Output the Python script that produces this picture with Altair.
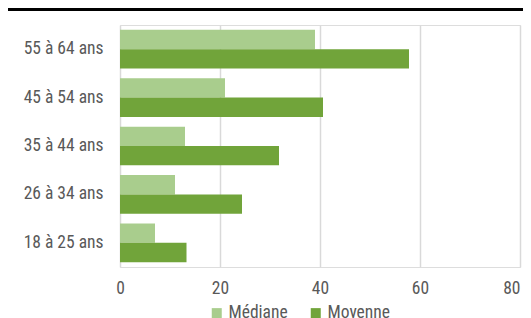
import altair as alt
import pandas as pd

groups = ["55 à 64 ans", "45 à 54 ans", "35 à 44 ans", "26 à 34 ans", "18 à 25 ans"]
mediane = [39, 21, 13, 11, 7]
moyenne = [57.8, 40.6, 31.8, 24.4, 13.3]
series = ["Médiane", "Moyenne"]
colors = ["#A9CD8D", "#71A43A"]
x_ticks = [0, 20, 40, 60, 80]

rows = []
for g, a, b in zip(groups, mediane, moyenne):
    rows.append({"groupe": g, "serie": series[0], "valeur": a})
    rows.append({"groupe": g, "serie": series[1], "valeur": b})
df = pd.DataFrame(rows)

FONT = "Liberation Sans Narrow, Arial Narrow, Roboto Condensed, DejaVu Sans Condensed, sans-serif"
TXT = "#595959"

bars = alt.Chart(df).mark_bar().encode(
    y=alt.Y("groupe:N", sort=groups, title=None,
            scale=alt.Scale(paddingInner=0.2, paddingOuter=0.1),
            axis=alt.Axis(ticks=False, domain=False, labelPadding=17,
                          labelFontSize=17.5, labelColor=TXT, labelFont=FONT,
                          labelFontWeight="normal")),
    yOffset=alt.YOffset("serie:N", sort=series),
    x=alt.X("valeur:Q", title=None,
            scale=alt.Scale(domain=[0, 80], nice=False),
            axis=alt.Axis(values=x_ticks, ticks=False, domain=False, grid=True,
                          gridColor="#D9D9D9", gridWidth=1.5, labelPadding=12,
                          labelFlush=False,
                          labelAlign={"condition": {"test": "datum.value == 80", "value": "right"},
                                      "value": "center"},
                          labelFontSize=17.5, labelColor=TXT, labelFont=FONT)),
    color=alt.Color("serie:N", sort=series,
                    scale=alt.Scale(domain=series, range=colors),
                    legend=alt.Legend(title=None, orient="none", direction="horizontal",
                                      legendX=88, legendY=279, symbolType="square",
                                      symbolSize=100, symbolStrokeWidth=0,
                                      labelFontSize=17.5, labelColor=TXT,
                                      labelFont=FONT, columnPadding=19, symbolOffset=0,
                                      labelOffset=3)),
)

topline = alt.Chart(pd.DataFrame({"a": [0]})).mark_rule(color="black", strokeWidth=3).encode(
    x=alt.value(-113), x2=alt.value(403), y=alt.value(-15.5)
)

chart = alt.layer(bars, topline).properties(
    width=400, height=242,
    autosize=alt.AutoSizeParams(type="none"),
    padding={"left": 112, "top": 17, "right": 3, "bottom": 51},
).configure_view(stroke=None).configure(background="white")

chart.save("out.html", embed_options={"renderer": "svg", "actions": False})
